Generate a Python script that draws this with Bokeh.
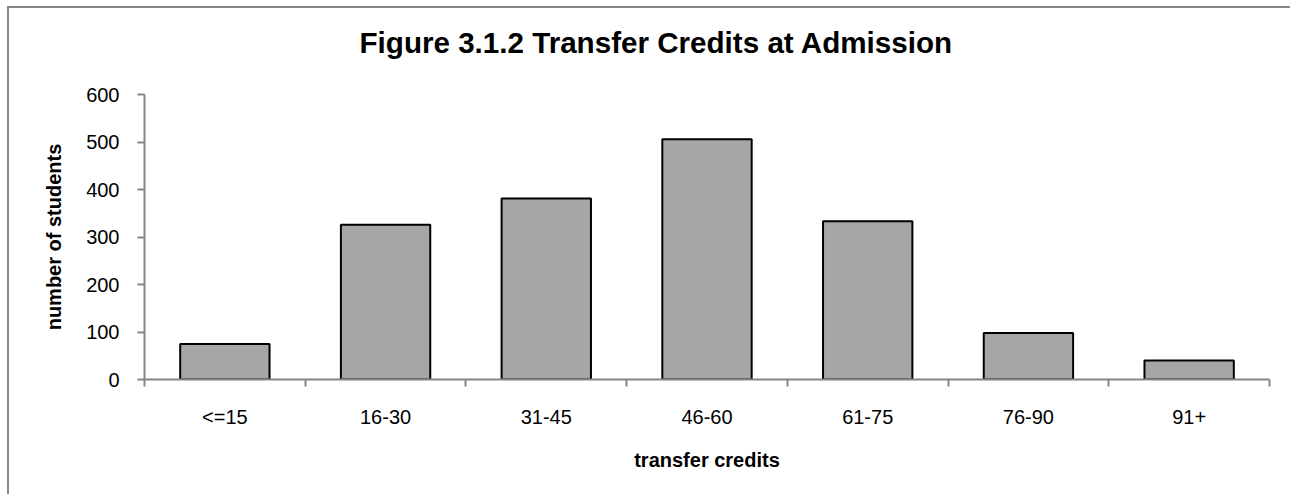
import numpy as np
from bokeh.plotting import figure
from bokeh.models import ColumnDataSource, Range1d, FixedTicker, Title
from bokeh.embed import file_html
from bokeh.resources import INLINE

categories = ["<=15", "16-30", "31-45", "46-60", "61-75", "76-90", "91+"]
students = [75, 326, 381, 506, 333, 98, 40]
y_ticks = [0, 100, 200, 300, 400, 500, 600]
title_text = "Figure 3.1.2 Transfer Credits at Admission"

FONT = "Liberation Sans"
AXIS_GRAY = "#868686"

pos = (np.arange(len(categories)) + 0.5).tolist()
src = ColumnDataSource(dict(x=pos, cat=categories, n=students))

p = figure(width=1283, height=488, output_backend="svg", toolbar_location=None,
           x_range=Range1d(0, len(categories)), y_range=Range1d(0, 600),
           min_border_left=135, min_border_right=23, min_border_top=86,
           min_border_bottom=117, title=None)
p.styles = {"margin-left": "7px", "margin-top": "6px",
            "border-left": "2px solid #888888", "border-top": "2px solid #888888"}

# spacer between plot area and title
p.add_layout(Title(text=" ", text_font_size="1px", standoff=33), "above")
p.add_layout(Title(text=title_text, text_font=FONT, text_font_size="29.6px",
                   text_font_style="bold", text_color="black", align="left",
                   offset=215, standoff=0, vertical_align="bottom"), "above")

p.vbar(x="x", top="n", width=0.556, bottom=0, source=src,
       fill_color="#A6A6A6", line_color="black", line_width=2)

p.outline_line_color = None
p.xgrid.grid_line_color = None
p.ygrid.grid_line_color = None
p.background_fill_color = "white"
p.border_fill_color = "white"

xa = p.xaxis[0]
xa.ticker = FixedTicker(ticks=pos, minor_ticks=list(range(len(categories) + 1)))
xa.major_label_overrides = {float(x): c for x, c in zip(pos, categories)}
xa.major_tick_out = 0
xa.major_tick_in = 0
xa.minor_tick_out = 7
xa.minor_tick_in = 0
xa.minor_tick_line_color = AXIS_GRAY
xa.minor_tick_line_width = 2
xa.axis_line_color = AXIS_GRAY
xa.axis_line_width = 2
xa.major_label_text_font = FONT
xa.major_label_text_font_size = "20px"
xa.major_label_text_color = "black"
xa.major_label_standoff = 19
xa.axis_label = "transfer credits"
xa.axis_label_text_font = FONT
xa.axis_label_text_font_size = "20px"
xa.axis_label_text_font_style = "bold"
xa.axis_label_text_color = "black"
xa.axis_label_standoff = 18

ya = p.yaxis[0]
ya.ticker = FixedTicker(ticks=y_ticks, minor_ticks=[])
ya.major_tick_out = 7
ya.major_tick_in = 0
ya.major_tick_line_color = AXIS_GRAY
ya.major_tick_line_width = 2
ya.minor_tick_line_color = None
ya.axis_line_color = AXIS_GRAY
ya.axis_line_width = 2
ya.major_label_text_font = FONT
ya.major_label_text_font_size = "20px"
ya.major_label_text_color = "black"
ya.major_label_standoff = 18
ya.axis_label = "number of students"
ya.axis_label_text_font = FONT
ya.axis_label_text_font_size = "20px"
ya.axis_label_text_font_style = "bold"
ya.axis_label_text_color = "black"
ya.axis_label_standoff = 18

open("out.html", "w").write(file_html(p, INLINE))
